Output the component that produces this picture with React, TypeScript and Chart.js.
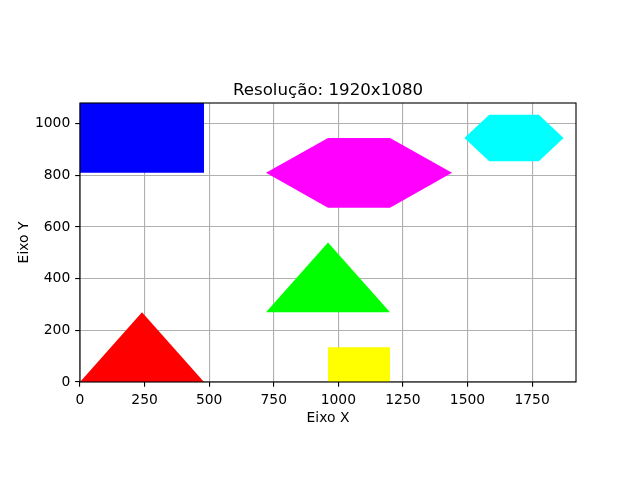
import { useEffect, useRef } from "react";
import { Chart, registerables } from "chart.js";

Chart.register(...registerables);

const TITLE = "Resolução: 1920x1080";
const X_LABEL = "Eixo X";
const Y_LABEL = "Eixo Y";
const X_MAX = 1920;
const Y_MAX = 1080;
const xTicks = [0, 250, 500, 750, 1000, 1250, 1500, 1750];
const yTicks = [0, 200, 400, 600, 800, 1000];

const blueRect = [[0, 810], [480, 810], [480, 1080], [0, 1080]];
const redTriangle = [[0, 0], [480, 0], [240, 270]];
const yellowRect = [[960, 0], [1200, 0], [1200, 135], [960, 135]];
const greenTriangle = [[720, 270], [1200, 270], [960, 540]];
const magentaHexagon = [[720, 810], [960, 945], [1200, 945], [1440, 810], [1200, 675], [960, 675]];
const cyanHexagon = [[1488, 945], [1584, 1035], [1776, 1035], [1872, 945], [1776, 855], [1584, 855]];

const shapes = [
  { pts: blueRect, color: "#0000ff" },
  { pts: redTriangle, color: "#ff0000" },
  { pts: yellowRect, color: "#ffff00" },
  { pts: greenTriangle, color: "#00ff00" },
  { pts: magentaHexagon, color: "#ff00ff" },
  { pts: cyanHexagon, color: "#00ffff" },
];

const PT = 100 / 72;

const decor = {
  id: "decor",
  afterDraw(chart: any) {
    const { ctx, chartArea: a } = chart;
    ctx.save();
    ctx.strokeStyle = "#000";
    ctx.lineWidth = 0.8 * PT;
    ctx.strokeRect(a.left, a.top, a.right - a.left, a.bottom - a.top);
    ctx.fillStyle = "#000";
    ctx.textAlign = "center";
    ctx.textBaseline = "alphabetic";
    ctx.font = `${12 * PT}px "DejaVu Sans"`;
    ctx.fillText(TITLE, (a.left + a.right) / 2, a.top - 8);
    ctx.font = `${10 * PT}px "DejaVu Sans"`;
    ctx.fillText(X_LABEL, (a.left + a.right) / 2, a.bottom + 40);
    ctx.translate(a.left - 52.5, (a.top + a.bottom) / 2);
    ctx.rotate(-Math.PI / 2);
    ctx.fillText(Y_LABEL, 0, 0);
    ctx.restore();
  },
};

export default function App() {
  const ref = useRef<HTMLCanvasElement>(null);
  useEffect(() => {
    if (!ref.current) return;
    const gridCommon = {
      color: "#b0b0b0",
      lineWidth: 0.8 * PT,
      tickColor: "#000",
      tickWidth: 0.8 * PT,
      tickLength: 3.5 * PT,
      drawTicks: true,
    };
    const tickFont = { family: "DejaVu Sans", size: 10 * PT };
    const fmt = (v: any) => String(v);
    const chart = new Chart(ref.current, {
      type: "scatter",
      data: {
        datasets: shapes.map((s) => ({
          data: [...s.pts, s.pts[0]].map(([x, y]) => ({ x, y })),
          showLine: true,
          fill: "shape",
          backgroundColor: s.color,
          borderColor: "rgba(0,0,0,0)",
          borderWidth: 0,
          pointRadius: 0,
          pointHoverRadius: 0,
          tension: 0,
        })) as any,
      },
      options: {
        animation: false,
        responsive: false,
        devicePixelRatio: 1,
        events: [],
        layout: { padding: { top: 103, right: 64, left: 0, bottom: 0 } },
        plugins: { legend: { display: false }, title: { display: false }, tooltip: { enabled: false } },
        scales: {
          x: {
            type: "linear",
            min: 0,
            max: X_MAX,
            z: 1,
            grid: gridCommon,
            border: { display: false },
            ticks: { font: tickFont, color: "#000", padding: 3.5 * PT, maxRotation: 0, callback: fmt },
            afterBuildTicks: (scale: any) => {
              scale.ticks = xTicks.map((v) => ({ value: v }));
            },
            afterFit: (scale: any) => {
              scale.height = 98;
            },
          },
          y: {
            type: "linear",
            min: 0,
            max: Y_MAX,
            z: 1,
            grid: gridCommon,
            border: { display: false },
            ticks: { font: tickFont, color: "#000", padding: 3.5 * PT, callback: fmt },
            afterBuildTicks: (scale: any) => {
              scale.ticks = yTicks.map((v) => ({ value: v }));
            },
            afterFit: (scale: any) => {
              scale.width = 80;
            },
          },
        },
      } as any,
      plugins: [decor],
    });
    return () => chart.destroy();
  }, []);
  return (
    <div style={{ position: "absolute", left: 0, top: 0, width: 640, height: 480, background: "#fff" }}>
      <canvas ref={ref} width={640} height={480} />
    </div>
  );
}
